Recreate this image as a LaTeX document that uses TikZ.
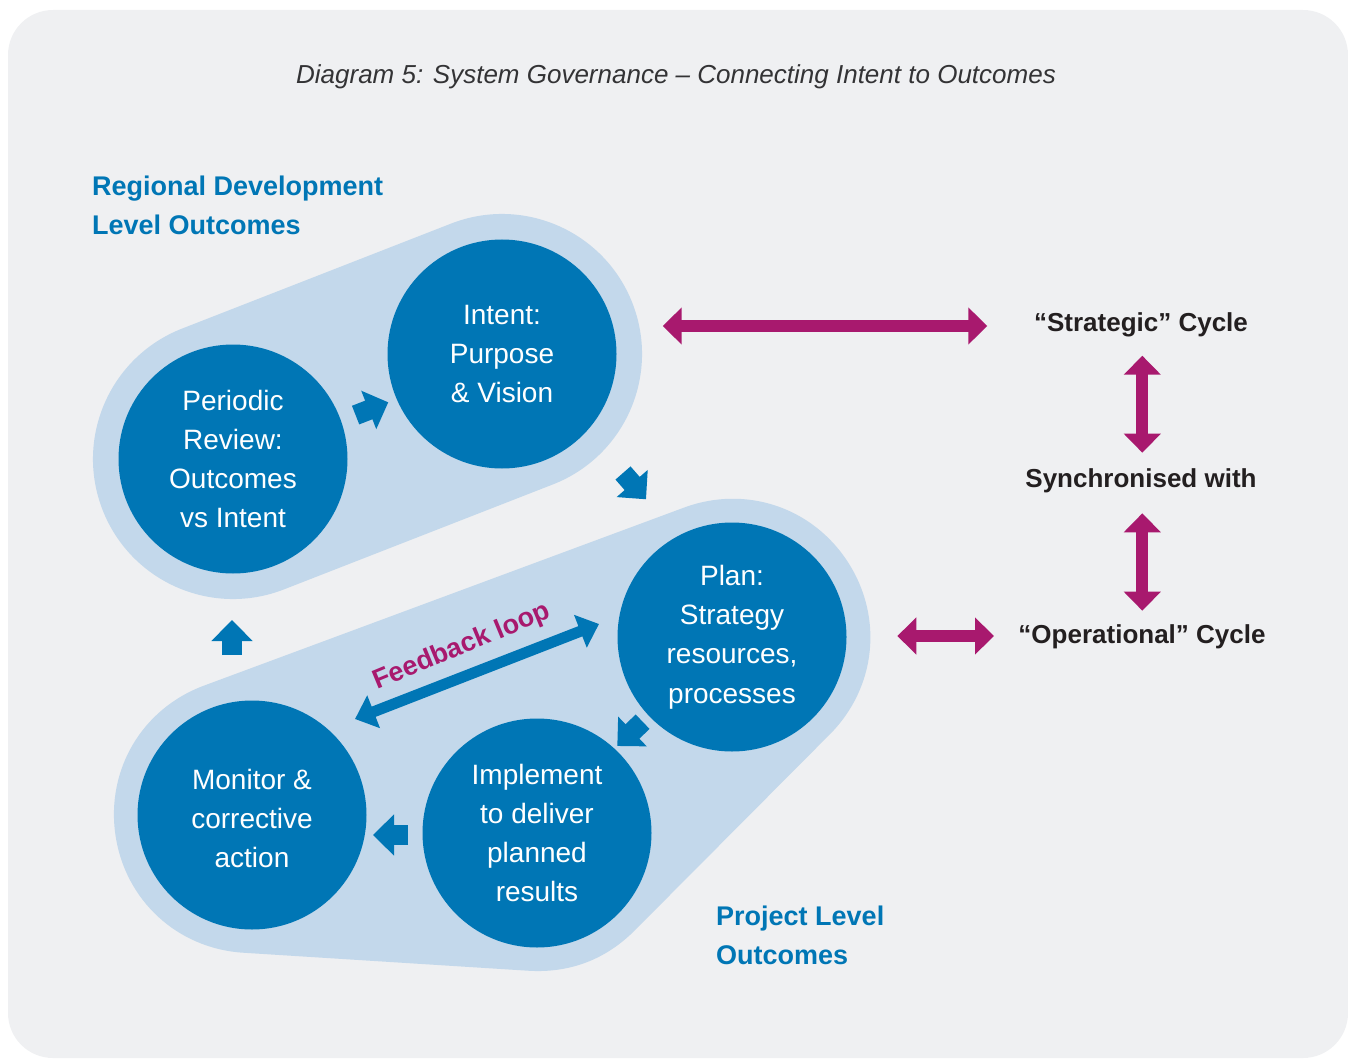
\documentclass[tikz,border=0pt]{standalone}
\usepackage{fontspec}
\setmainfont{Liberation Sans}
\usetikzlibrary{arrows.meta,backgrounds}
\definecolor{panelgrey}{HTML}{EFF0F2}
\definecolor{capsuleblue}{HTML}{C3D8EB}
\definecolor{stageblue}{HTML}{0076B5}
\definecolor{syncmagenta}{HTML}{A8196E}
\definecolor{labelblack}{HTML}{231F20}
\definecolor{titlegrey}{HTML}{333335}
\tikzset{
  stage/.style={circle, fill=stageblue, minimum size=229pt, inner sep=0pt, text=white,
    align=center, font=\fontsize{28}{39.3}\selectfont},
  capsule/.style={draw=capsuleblue, fill=capsuleblue, line cap=round, line join=round},
  flowarrow/.style={draw=stageblue, line width=20pt, -{Triangle[width=40pt,length=21pt]}},
  syncarrow/.style={draw=syncmagenta, line width=12pt,
    {Triangle[width=36pt,length=19pt]}-{Triangle[width=36pt,length=19pt]}},
  heading/.style={anchor=north west, inner sep=0pt, align=left, text=stageblue,
    font=\bfseries\fontsize{27}{39}\selectfont},
  cyclelabel/.style={text=labelblack, font=\bfseries\fontsize{26}{30}\selectfont}
}
\begin{document}
\begin{tikzpicture}[x=1pt,y=-1pt]
\useasboundingbox (0,0) rectangle (1348,1059);
\node[text=titlegrey, font=\itshape\fontsize{26}{30}\selectfont] (title) at (676,77)
  {Diagram 5: System Governance – Connecting Intent to Outcomes};

% the five stages
\node[stage] (review) at (233,459) {Periodic\\Review:\\Outcomes\\vs Intent};
\node[stage] (intent) at (502,354) {Intent:\\Purpose\\\& Vision};
\node[stage] (plan) at (732,637) {Plan:\\Strategy\\resources,\\processes};
\node[stage] (implement) at (537,833) {Implement\\to deliver\\planned\\results};
\node[stage] (monitor) at (252,815) {\\[-12pt]Monitor \&\\corrective\\action};

\begin{scope}[on background layer]
  \fill[panelgrey, rounded corners=45pt] (8,10) rectangle (1348,1058);
  \draw[capsule, line width=280pt] (review.center) -- (intent.center);
  \filldraw[capsule, line width=276pt] (plan.center) -- (implement.center) -- (monitor.center) -- cycle;
\end{scope}

\node[heading] (regional) at (92,176) {Regional Development\\Level Outcomes};
\node[heading] (project) at (716,906) {Project Level\\Outcomes};

% cycle arrows between the stages
\coordinate (r-tail) at (355.6,415.1); \coordinate (r-tip) at (388.3,402.3);
\coordinate (i-tail) at (623,473);     \coordinate (i-tip) at (646,499.3);
\coordinate (p-tail) at (642.6,721.7); \coordinate (p-tip) at (617.3,746);
\coordinate (m-tail) at (408,835);     \coordinate (m-tip) at (373,835);
\coordinate (u-tail) at (232,655);     \coordinate (u-tip) at (232,620);
\draw[flowarrow] (r-tail) -- (r-tip);
\draw[flowarrow] (i-tail) -- (i-tip);
\draw[flowarrow] (p-tail) -- (p-tip);
\draw[flowarrow] (m-tail) -- (m-tip);
\draw[flowarrow] (u-tail) -- (u-tip);

% feedback loop
\coordinate (fb-west) at (355,719);
\coordinate (fb-east) at (599,624);
\draw[draw=stageblue, line width=11pt,
  {Triangle[width=34pt,length=20pt]}-{Triangle[width=34pt,length=20pt]}] (fb-west) -- (fb-east);
\node[rotate=22.5, text=syncmagenta, font=\bfseries\fontsize{27}{30}\selectfont] (feedback)
  at (462,647) {Feedback loop};

% right hand side
\node[cyclelabel] (strategic) at (1141,325) {“Strategic” Cycle};
\node[cyclelabel] (synced) at (1141,481) {Synchronised with};
\node[cyclelabel] (operational) at (1142,637) {“Operational” Cycle};
\coordinate (s-west) at (662.7,326);   \coordinate (s-east) at (987.3,326);
\coordinate (o-west) at (897.3,636);   \coordinate (o-east) at (994,636);
\coordinate (v1-top) at (1142.3,355.7); \coordinate (v1-bot) at (1142.3,452.7);
\coordinate (v2-top) at (1142.3,513.3); \coordinate (v2-bot) at (1142.3,610.7);
\draw[syncarrow] (s-west) -- (s-east);
\draw[syncarrow] (o-west) -- (o-east);
\draw[syncarrow] (v1-top) -- (v1-bot);
\draw[syncarrow] (v2-top) -- (v2-bot);
\end{tikzpicture}
\end{document}
